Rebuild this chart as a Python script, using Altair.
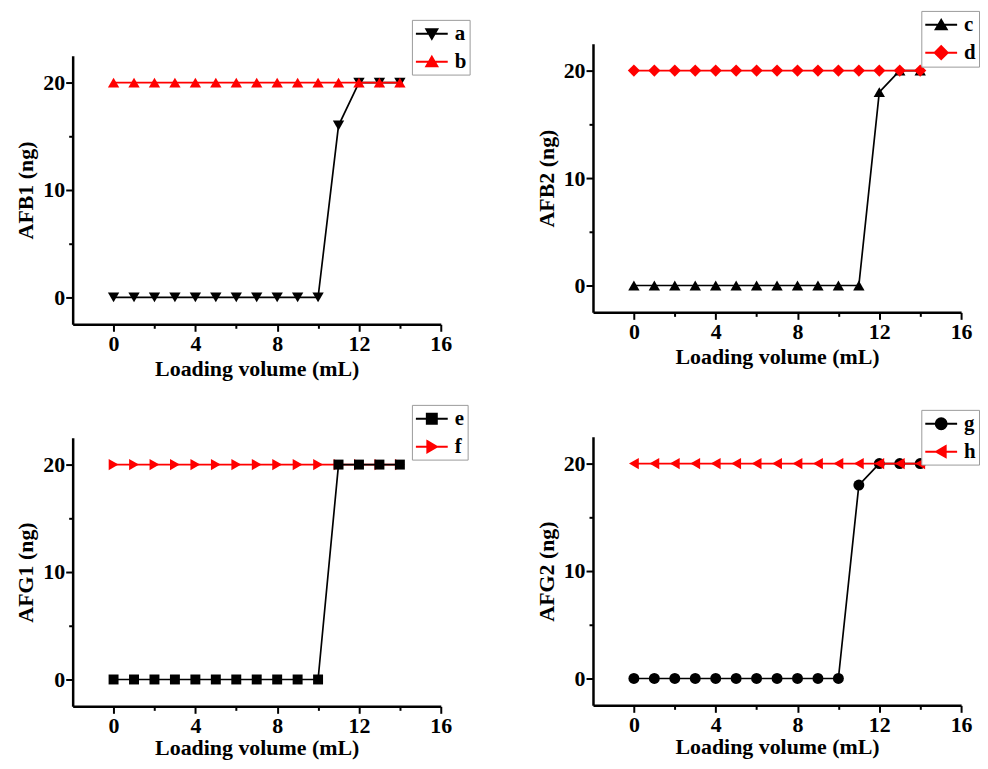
import altair as alt
import pandas as pd

# ---------------- data ----------------
loading_volume = [0, 1, 2, 3, 4, 5, 6, 7, 8, 9, 10, 11, 12, 13, 14]

afb1_a = [0, 0, 0, 0, 0, 0, 0, 0, 0, 0, 0, 16, 20, 20, 20]
afb1_b = [20, 20, 20, 20, 20, 20, 20, 20, 20, 20, 20, 20, 20, 20, 20]

afb2_c = [0, 0, 0, 0, 0, 0, 0, 0, 0, 0, 0, 0, 18, 20, 20]
afb2_d = [20, 20, 20, 20, 20, 20, 20, 20, 20, 20, 20, 20, 20, 20, 20]

afg1_e = [0, 0, 0, 0, 0, 0, 0, 0, 0, 0, 0, 20, 20, 20, 20]
afg1_f = [20, 20, 20, 20, 20, 20, 20, 20, 20, 20, 20, 20, 20, 20, 20]

afg2_g = [0, 0, 0, 0, 0, 0, 0, 0, 0, 0, 0, 18, 20, 20, 20]
afg2_h = [20, 20, 20, 20, 20, 20, 20, 20, 20, 20, 20, 20, 20, 20, 20]

x_ticks = [0, 2, 4, 6, 8, 10, 12, 14, 16]
y_ticks = [0, 5, 10, 15, 20]

FONT = "Liberation Serif"
RED = "#ff0000"
BLACK = "#000000"

LINE = "M-1.6,0L1.6,0"
PATHS = {
    "triangle-down": LINE + "M-0.55,-0.45L0.55,-0.45L0,0.5Z",
    "triangle-up": LINE + "M-0.55,0.45L0.55,0.45L0,-0.5Z",
    "diamond": LINE + "M-0.65,0L0,-0.65L0.65,0L0,0.65Z",
    "square": LINE + "M-0.5,-0.5L0.5,-0.5L0.5,0.5L-0.5,0.5Z",
    "triangle-right": LINE + "M-0.45,-0.55L0.5,0L-0.45,0.55Z",
    "triangle-left": LINE + "M0.45,-0.55L-0.5,0L0.45,0.55Z",
    "circle": LINE + "M-0.55,0A0.55,0.55,0,1,1,0.55,0A0.55,0.55,0,1,1,-0.55,0Z",
}


def panel(ytitle, black_vals, red_vals, lab_black, lab_red,
          shape_black, shape_red, size_black, size_red,
          red_on_top, legend_x, legend_y, xtitle_pad=4, width=370, height=270):
    df = pd.DataFrame({
        "x": loading_volume + loading_volume,
        "y": black_vals + red_vals,
        "series": [lab_black] * len(loading_volume) + [lab_red] * len(loading_volume),
    })
    xenc = alt.X(
        "x:Q",
        scale=alt.Scale(domain=[-2, 16], nice=False, zero=False),
        axis=alt.Axis(
            title="Loading volume (mL)", values=x_ticks,
            labelExpr="datum.value % 4 === 0 ? datum.label : ''",
            tickSize={"condition": {"test": "datum.value % 4 === 0", "value": 7}, "value": 4},
            grid=False, labelFlush=False, labelOverlap=False,
            labelPadding=2, titlePadding=xtitle_pad,
        ),
    )
    yenc = alt.Y(
        "y:Q",
        scale=alt.Scale(domain=[-2.5, 22.5], nice=False, zero=False),
        axis=alt.Axis(
            title=ytitle, values=y_ticks,
            labelExpr="datum.value % 10 === 0 ? datum.label : ''",
            tickSize={"condition": {"test": "datum.value % 10 === 0", "value": 7}, "value": 4},
            grid=False, labelFlush=False, labelOverlap=False,
            labelPadding=1, titlePadding=5,
        ),
    )
    base = alt.Chart(df).encode(x=xenc, y=yenc)

    def layers(lab, color, shape, size):
        sub = base.transform_filter(alt.datum.series == lab)
        return [
            sub.mark_line(color=color, strokeWidth=1.7),
            sub.mark_point(shape=shape, filled=True, color=color, size=size, opacity=1),
        ]

    black_layers = layers(lab_black, BLACK, shape_black, size_black)
    red_layers = layers(lab_red, RED, shape_red, size_red)
    ordered = black_layers + red_layers if red_on_top else red_layers + black_layers

    dom = [lab_black, lab_red]
    leg = alt.Legend(
        orient="none", legendX=legend_x, legendY=legend_y, title=None,
        strokeColor="#9a9a9a", fillColor="white", padding=3,
        labelFont=FONT, labelFontSize=21, labelFontWeight="bold", labelColor="black",
        symbolSize=400, symbolStrokeWidth=2, symbolOffset=6, labelOffset=12,
        rowPadding=7,
    )
    legend_layer = alt.Chart(df).transform_filter("false").mark_point(
        filled=True, strokeWidth=2, opacity=1
    ).encode(
        shape=alt.Shape("series:N", scale=alt.Scale(domain=dom, range=[PATHS[shape_black], PATHS[shape_red]]), legend=leg),
        fill=alt.Fill("series:N", scale=alt.Scale(domain=dom, range=[BLACK, RED]), legend=leg),
        stroke=alt.Stroke("series:N", scale=alt.Scale(domain=dom, range=[BLACK, RED]), legend=leg),
    )
    return alt.layer(*ordered, legend_layer).properties(width=width, height=height)


p1 = panel("AFB1 (ng)", afb1_a, afb1_b, "a", "b", "triangle-down", "triangle-up", 130, 130,
           True, 341, -36)
p2 = panel("AFB2 (ng)", afb2_c, afb2_d, "c", "d", "triangle-up", "diamond", 130, 150,
           True, 330, -33)
p3 = panel("AFG1 (ng)", afg1_e, afg1_f, "e", "f", "square", "triangle-right", 100, 130,
           False, 341, -33, xtitle_pad=1)
p4 = panel("AFG2 (ng)", afg2_g, afg2_h, "g", "h", "circle", "triangle-left", 121, 130,
           True, 330, -27, xtitle_pad=1)

ind = dict(shape="independent", fill="independent", stroke="independent")

# small invisible block that drops the left column 12 px below the right one
spacer = alt.Chart(pd.DataFrame({"v": [0]})).mark_point(opacity=0).properties(width=1, height=12)

left_inner = alt.vconcat(p1, p3, spacing=114, bounds="flush").resolve_scale(**ind)
left = alt.vconcat(spacer, left_inner, spacing=0, bounds="flush").resolve_scale(**ind)
right = alt.vconcat(p2, p4, spacing=125, bounds="flush").resolve_scale(**ind)

chart = alt.hconcat(left, right, spacing=65).resolve_scale(**ind).properties(
    padding={"left": 7, "top": 0, "right": 0, "bottom": 0}
).configure_view(stroke=None).configure_axis(
    labelFont=FONT, labelFontSize=22, labelFontWeight="bold", labelColor="black",
    titleFont=FONT, titleFontSize=22, titleFontWeight="bold", titleColor="black",
    domainColor="black", domainWidth=2.5, tickColor="black", tickWidth=2,
)

chart.save("out.html", embed_options={"renderer": "svg", "actions": False})
